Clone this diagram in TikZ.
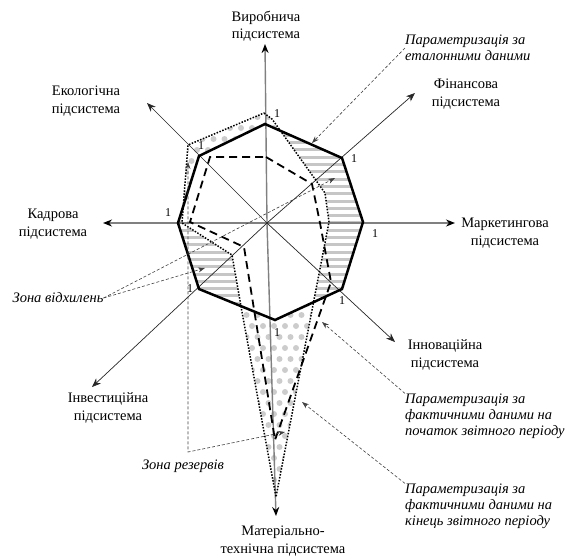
\documentclass[tikz,border=0pt]{standalone}
\usepackage{fontspec}
\setmainfont{Liberation Serif}
\usetikzlibrary{arrows.meta}

\begin{document}
\begin{tikzpicture}[
    x=1pt, y=-1pt,
    lbl/.style={align=center, inner sep=0pt, font=\fontsize{14.5}{17.5}\selectfont},
    note/.style={align=left, inner sep=0pt, anchor=west, font=\fontsize{14.5}{16}\selectfont\itshape},
    one/.style={inner sep=0pt, font=\fontsize{12}{12}\selectfont},
    axis/.style={gray, line width=1.4pt, -{Stealth[length=9pt,width=7pt,black]}},
    diag/.style={black!85, line width=0.7pt, -{Stealth[length=9pt,width=7pt]}},
    etalonline/.style={black, line width=2.5pt},
    startline/.style={black, line width=1.8pt, dash pattern=on 8pt off 5pt},
    endline/.style={black, line width=1.5pt, dash pattern=on 1.5pt off 1.5pt},
    lead/.style={black!75, line width=0.6pt, dash pattern=on 3pt off 2pt},
    tip/.style={-{Stealth[length=7pt,width=5pt]}},
    hatch/.style={gray!45, line width=3pt},
    dotfill/.style={fill=gray!40}
  ]
  \useasboundingbox (0,0) rectangle (566,558);

  \coordinate (O)   at (267,223);
  % axis ends
  \coordinate (aT)  at (265,44);
  \coordinate (aUR) at (415,93);
  \coordinate (aR)  at (455,223);
  \coordinate (aLR) at (395,342);
  \coordinate (aB)  at (276,516);
  \coordinate (aLL) at (92,387);
  \coordinate (aL)  at (103,223);
  \coordinate (aUL) at (147,103);
  % etalon
  \coordinate (eT)  at (265,124);
  \coordinate (eUR) at (342,158);
  \coordinate (eR)  at (363,222);
  \coordinate (eLR) at (342,289);
  \coordinate (eB)  at (275,320);
  \coordinate (eLL) at (199,289);
  \coordinate (eL)  at (178,223);
  \coordinate (eUL) at (199,156);
  % start of period
  \coordinate (sT)  at (266,157);
  \coordinate (sUR) at (312,184);
  \coordinate (sR)  at (320,223);
  \coordinate (sLR) at (331,282);
  \coordinate (sB)  at (275,440);
  \coordinate (sLL) at (244,247);
  \coordinate (sL)  at (190,222);
  \coordinate (sUL) at (210,157);
  % end of period
  \coordinate (fT)  at (264,113);
  \coordinate (fT2) at (272,119);
  \coordinate (fUR) at (325,193);
  \coordinate (fR)  at (329,222);
  \coordinate (fB)  at (276,497);
  \coordinate (fB2) at (242,312);
  \coordinate (fLL) at (232,255);
  \coordinate (fL)  at (182,223);
  \coordinate (fUL) at (188,145);

  \begin{scope}
    \clip (eT) -- (eUR) -- (eR) -- (eLR) -- (eB) -- (eLL) -- (eL) -- (eUL) -- cycle;
    \foreach \y in {128,135.3,...,330}
      \draw[hatch] (170,\y) -- (370,\y);
    \fill[white] (fT) -- (fT2) -- (fUR) -- (fR) -- (fB) -- (fB2) -- (fLL) -- (fL) -- (fUL) -- cycle;
  \end{scope}

  \begin{scope}
    \clip (fT) -- (fT2) -- (fUR) -- (fR) -- (fB) -- (fB2) -- (fLL) -- (fL) -- (fUL) -- cycle;
    \foreach \r in {0,...,36}
      \foreach \c in {0,...,16}
        \fill[dotfill] ({175+11*\c+5.5*mod(\r,2)},{106+11*\r}) circle (3pt);
    \fill[white] (eT) -- (eUR) -- (eR) -- (eLR) -- (eB) -- (eLL) -- (eL) -- (eUL) -- cycle;
  \end{scope}

  \draw[axis] (O) -- (aT);
  \draw[axis] (O) -- (aB);
  \draw[axis] (O) -- (aL);
  \draw[axis] (O) -- (aR);
  \draw[diag] (O) -- (aUR);
  \draw[diag] (O) -- (aLL);
  \draw[diag] (O) -- (aUL);
  \draw[diag] (O) -- (aLR);

  \draw[etalonline] (eT) -- (eUR) -- (eR) -- (eLR) -- (eB) -- (eLL) -- (eL) -- (eUL) -- cycle;
  \draw[startline] (sT) -- (sUR) -- (sR) -- (sLR) -- (sB) -- (sLL) -- (sL) -- (sUL) -- cycle;
  \draw[endline] (fT) -- (fT2) -- (fUR) -- (fR) -- (fB) -- (fB2) -- (fLL) -- (fL) -- (fUL) -- cycle;

  \node (oT)  [one] at (277,114) {1};
  \node (oUR) [one] at (354,159) {1};
  \node (oR)  [one] at (375,234) {1};
  \node (oLR) [one] at (342,301) {1};
  \node (oB)  [one] at (277,333) {1};
  \node (oLL) [one] at (190,289) {1};
  \node (oL)  [one] at (168,213) {1};
  \node (oUL) [one] at (201,146) {1};

  \node (vyr)  [lbl] at (266,26)  {Виробнича\\підсистема};
  \node (fin)  [lbl] at (466,94)  {Фінансова\\підсистема};
  \node (mark) [lbl] at (505,233) {Маркетингова\\підсистема};
  \node (inn)  [lbl] at (445,355) {Інноваційна\\підсистема};
  \node (mat)  [lbl] at (283,541) {Матеріально-\\технічна підсистема};
  \node (inv)  [lbl] at (108,408) {Інвестиційна\\підсистема};
  \node (kadr) [lbl] at (53,224)  {Кадрова\\підсистема};
  \node (ekol) [lbl] at (86,101)  {Екологічна\\підсистема};

  \node (etal) [note] at (405,48)  {Параметризація за\\еталонними даними};
  \node (poch) [note] at (405,416) {Параметризація за\\фактичними даними на\\початок звітного періоду};
  \node (kin)  [note] at (405,506) {Параметризація за\\фактичними даними на\\кінець звітного періоду};
  \node (zvid) [note, anchor=center] at (58,298)  {Зона відхилень};
  \node (zres) [note, anchor=center] at (183,466) {Зона резервів};

  \coordinate (tE)  at (312,143);
  \coordinate (tS)  at (322,322);
  \coordinate (tF)  at (302,402);
  \coordinate (tV1) at (205,268);
  \coordinate (tV2) at (335,178);
  \coordinate (tR1) at (188,162);
  \coordinate (rc)  at (188,452);
  \coordinate (tR2) at (285,432);

  \draw[lead,tip] (etal.west) -- (tE);
  \draw[lead,tip] (poch.north west) -- (tS);
  \draw[lead,tip] (kin.north west) -- (tF);
  \draw[lead,tip] (zvid.east) -- (tV1);
  \draw[lead,tip] (zvid.east) -- (tV2);
  \draw[lead,{Stealth[length=7pt,width=5pt]}-{Stealth[length=7pt,width=5pt]}] (tR1) -- (rc) -- (tR2);
\end{tikzpicture}
\end{document}
